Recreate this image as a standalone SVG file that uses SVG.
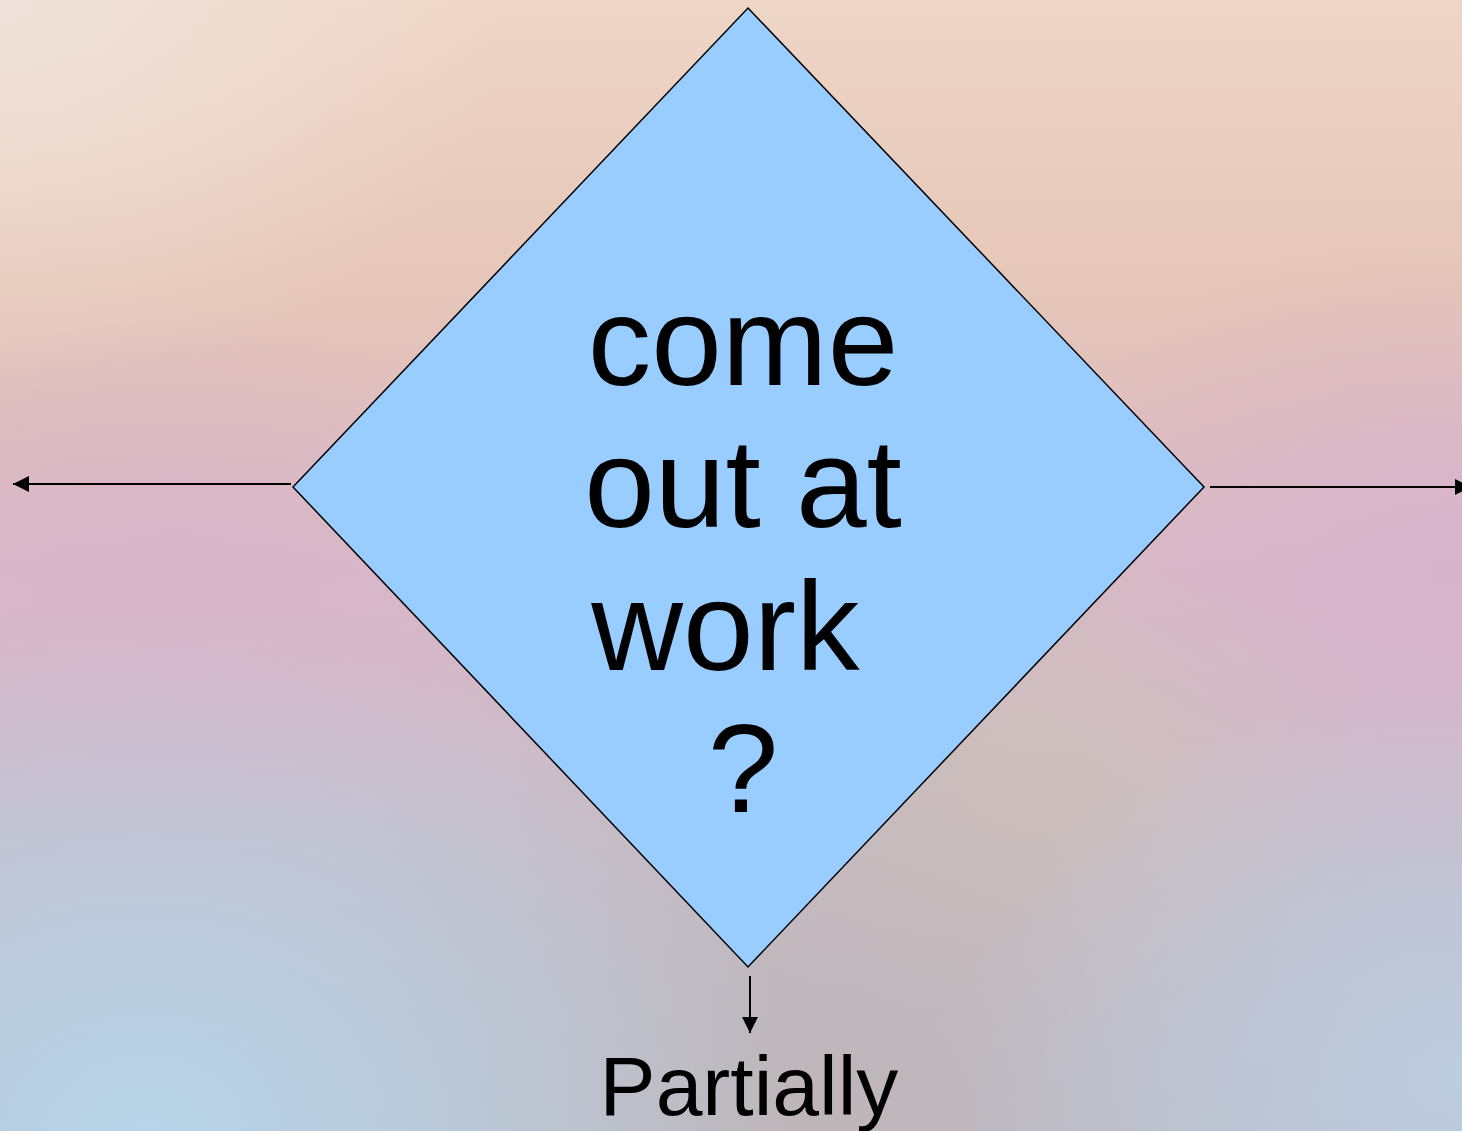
<svg xmlns="http://www.w3.org/2000/svg" width="1462" height="1131" viewBox="0 0 1462 1131">
<defs>
<linearGradient id="bg" x1="0" y1="0" x2="0" y2="1">
<stop offset="0" stop-color="#eed6c7"/>
<stop offset="0.25" stop-color="#e6c6b8"/>
<stop offset="0.5" stop-color="#d9b7c6"/>
<stop offset="0.75" stop-color="#c8bcc8"/>
<stop offset="1" stop-color="#bdbfcc"/>
</linearGradient>
<radialGradient id="tl" cx="0" cy="0" r="0.35">
<stop offset="0" stop-color="#efe2da" stop-opacity="1"/>
<stop offset="1" stop-color="#efe2da" stop-opacity="0"/>
</radialGradient>
<radialGradient id="bl" cx="0.1" cy="1" r="0.45">
<stop offset="0" stop-color="#b8d4e8" stop-opacity="1"/>
<stop offset="1" stop-color="#b8d4e8" stop-opacity="0"/>
</radialGradient>
<radialGradient id="br" cx="1" cy="0.95" r="0.35">
<stop offset="0" stop-color="#bccde0" stop-opacity="0.9"/>
<stop offset="1" stop-color="#bccde0" stop-opacity="0"/>
</radialGradient>
<radialGradient id="bc" cx="0.55" cy="1" r="0.4">
<stop offset="0" stop-color="#bfb4b6" stop-opacity="0.9"/>
<stop offset="1" stop-color="#bfb4b6" stop-opacity="0"/>
</radialGradient>
<radialGradient id="rm" cx="1" cy="0.5" r="0.3">
<stop offset="0" stop-color="#d6b2cc" stop-opacity="0.8"/>
<stop offset="1" stop-color="#d6b2cc" stop-opacity="0"/>
</radialGradient>
<radialGradient id="lm" cx="0.12" cy="0.52" r="0.25">
<stop offset="0" stop-color="#d6b4ca" stop-opacity="0.7"/>
<stop offset="1" stop-color="#d6b4ca" stop-opacity="0"/>
</radialGradient>
<radialGradient id="cm" cx="0.7" cy="0.7" r="0.25">
<stop offset="0" stop-color="#cec0b8" stop-opacity="0.8"/>
<stop offset="1" stop-color="#cec0b8" stop-opacity="0"/>
</radialGradient>
<marker id="ahb" viewBox="0 0 16 16" refX="16" refY="8" markerWidth="16" markerHeight="16" markerUnits="userSpaceOnUse" orient="auto">
<path d="M0,0 L16,8 L0,16 Z" fill="#000"/>
</marker>
</defs>
<style>
.t{font-family:"Liberation Sans",Arial,sans-serif;fill:#000;text-anchor:middle}
.big{font-size:127px}
.lbl{font-size:84px}
.c{stroke:#000;stroke-width:2;fill:none}
</style>
<rect width="1462" height="1131" fill="url(#bg)"/>
<rect width="1462" height="1131" fill="url(#tl)"/>
<rect width="1462" height="1131" fill="url(#rm)"/>
<rect width="1462" height="1131" fill="url(#lm)"/>
<rect width="1462" height="1131" fill="url(#cm)"/>
<rect width="1462" height="1131" fill="url(#bc)"/>
<rect width="1462" height="1131" fill="url(#bl)"/>
<rect width="1462" height="1131" fill="url(#br)"/>
<g id="connectors">
<line class="c" x1="291" y1="484" x2="13" y2="484" marker-end="url(#ahb)"/>
<line class="c" x1="1210" y1="487" x2="1471" y2="487" marker-end="url(#ahb)"/>
<line class="c" x1="750" y1="976" x2="750" y2="1033" marker-end="url(#ahb)"/>
</g>
<g id="decision">
<polygon points="748,8 1204,487 748,967 293,487" fill="#99ccff" stroke="#000" stroke-width="1.5"/>
<text class="t big" x="743" y="385">come</text>
<text class="t big" x="743" y="527">out at</text>
<text class="t big" x="743" y="670" xml:space="preserve">work </text>
<text class="t big" x="743" y="812">?</text>
</g>
<g id="label-partially">
<text class="t lbl" x="749" y="1115">Partially</text>
</g>
</svg>
